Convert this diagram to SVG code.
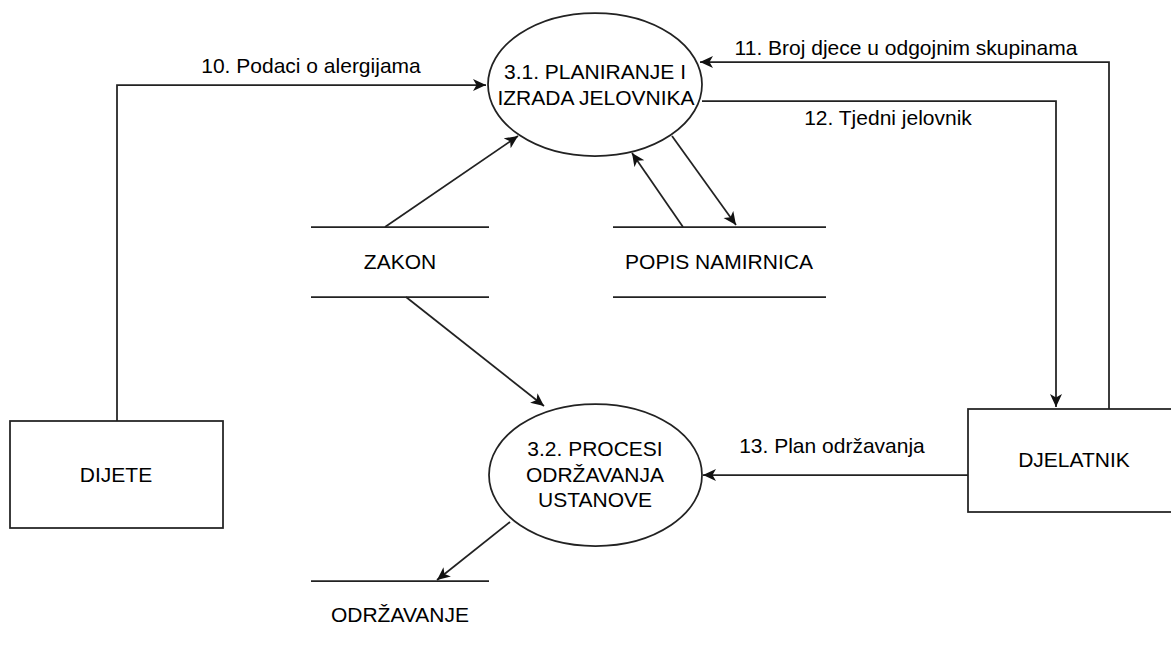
<svg xmlns="http://www.w3.org/2000/svg" width="1171" height="650" viewBox="0 0 1171 650">
<style>
  text { font-family: "Liberation Sans", Arial, sans-serif; font-size: 21px; fill: #000; text-anchor: middle; }
  .shape { fill: #fff; stroke: #222; stroke-width: 1.75; }
  .store { stroke: #222; stroke-width: 1.75; fill: none; }
  .conn { fill: none; stroke: #222; stroke-width: 1.75; marker-end: url(#arrow); }
  .plain { fill: none; stroke: #222; stroke-width: 1.75; }
</style>
<defs>
  <marker id="arrow" markerUnits="userSpaceOnUse" markerWidth="14" markerHeight="13" refX="13" refY="6" orient="auto">
    <path d="M0,0 L13,6 L0,12 L3.5,6 Z" fill="#111" stroke="none"/>
  </marker>
</defs>
<rect width="1171" height="650" fill="#fff"/>

<g id="connectors">
  <path class="conn" d="M117,421 L117,85 L486,85"/>
  <path class="conn" d="M1109,409 L1109,62 L700,62"/>
  <path class="conn" d="M702,101 L1056,101 L1056,407"/>
  <path class="conn" d="M968,475 L703,475"/>
  <path class="conn" d="M385,227 L518,136"/>
  <path class="conn" d="M672,136 L736,225"/>
  <path class="conn" d="M683,227 L632,153"/>
  <path class="conn" d="M406,297 L544,406"/>
  <path class="conn" d="M510,522 L437,580"/>
  <text x="311" y="73">10. Podaci o alergijama</text>
  <text x="906" y="55">11. Broj djece u odgojnim skupinama</text>
  <text x="888" y="125">12. Tjedni jelovnik</text>
  <text x="832" y="453">13. Plan održavanja</text>
</g>

<g id="p31">
  <ellipse class="shape" cx="595" cy="84.5" rx="107" ry="71.5"/>
  <text x="595" y="79">3.1. PLANIRANJE I</text>
  <text x="596" y="105">IZRADA JELOVNIKA</text>
</g>

<g id="p32">
  <ellipse class="shape" cx="595.5" cy="475" rx="106.5" ry="71"/>
  <text x="595" y="456">3.2. PROCESI</text>
  <text x="595" y="482">ODRŽAVANJA</text>
  <text x="595" y="507">USTANOVE</text>
</g>

<g id="dijete">
  <rect class="shape" x="10" y="421" width="213" height="107"/>
  <text x="116" y="482">DIJETE</text>
</g>

<g id="djelatnik">
  <rect class="shape" x="968" y="409" width="213" height="103"/>
  <text x="1074" y="467">DJELATNIK</text>
</g>

<g id="zakon">
  <line class="store" x1="311" y1="227" x2="489" y2="227"/>
  <line class="store" x1="311" y1="297" x2="489" y2="297"/>
  <text x="400" y="269">ZAKON</text>
</g>

<g id="popis">
  <line class="store" x1="613" y1="227" x2="826" y2="227"/>
  <line class="store" x1="613" y1="297" x2="826" y2="297"/>
  <text x="719" y="269">POPIS NAMIRNICA</text>
</g>

<g id="odrzavanje">
  <line class="store" x1="311" y1="581" x2="489" y2="581"/>
  <text x="400" y="622">ODRŽAVANJE</text>
</g>
</svg>
